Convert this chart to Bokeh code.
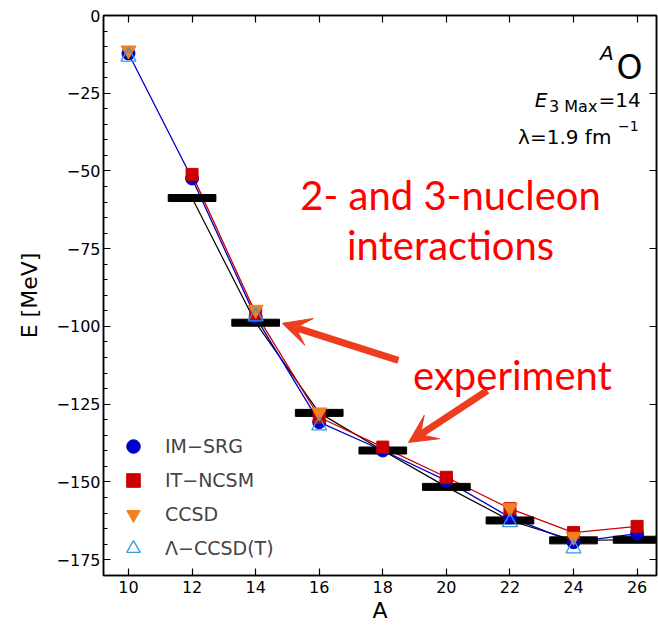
import numpy as np
from bokeh.plotting import figure
from bokeh.models import (Range1d, LinearAxis, SingleIntervalTicker, CustomJSTickFormatter,
                          Legend, LegendItem, Arrow, VeeHead, Label)
from bokeh.embed import file_html
from bokeh.resources import INLINE

# ---- data ----
mass_number = [10, 12, 14, 16, 18, 20, 22, 24, 26]
im_srg = [-12.2, -52.4, -97.0, -130.8, -139.9, -149.6, -161.4, -169.4, -166.6]
it_ncsm = [None, -51.1, -95.8, -129.2, -138.8, -148.5, -158.6, -166.3, -164.3]
ccsd = [-11.2, None, -94.6, -127.6, None, None, -158.3, -167.6, None]
lambda_ccsdt = [-13.3, None, -96.8, -131.9, None, None, -163.0, -171.4, None]
experiment = [None, -58.7, -98.8, -127.8, -139.9, -151.6, -162.4, -168.8, -168.6]

x_ticks = [10, 12, 14, 16, 18, 20, 22, 24, 26]
y_ticks = [0, -25, -50, -75, -100, -125, -150, -175]

def arr(v):
    return np.array([np.nan if a is None else a for a in v], dtype=float)

A = np.array(mass_number, dtype=float)

FONT = "DejaVu Sans"

p = figure(width=658, height=625, x_range=Range1d(9.214, 26.61), y_range=Range1d(-180.1, 0),
           output_backend="svg", toolbar_location=None,
           min_border_left=103, min_border_right=2, min_border_top=15, min_border_bottom=50)
p.xgrid.visible = False
p.ygrid.visible = False
p.outline_line_color = "black"
p.outline_line_width = 1.5
p.background_fill_color = "white"
p.border_fill_color = "white"

minus_fmt = CustomJSTickFormatter(code="return tick < 0 ? '\\u2212' + Math.abs(tick) : String(tick);")
blank_fmt = CustomJSTickFormatter(code="return '';")

def style_axis(ax, labels=True):
    ax.axis_line_width = 1.5
    ax.major_tick_in = 7
    ax.major_tick_out = 0
    ax.minor_tick_in = 4
    ax.minor_tick_out = 0
    ax.major_tick_line_width = 1.2
    ax.minor_tick_line_width = 1.0
    if labels:
        ax.major_label_text_font = FONT
        ax.major_label_text_font_size = "16px"
        ax.major_label_text_color = "black"
        ax.axis_label_text_font = FONT
        ax.axis_label_text_font_size = "22px"
        ax.axis_label_text_font_style = "normal"
        ax.axis_label_text_color = "black"
    else:
        ax.formatter = blank_fmt
        ax.major_label_text_font_size = "1px"
        ax.major_label_standoff = 0

xax = p.xaxis[0]
xax.ticker = SingleIntervalTicker(interval=2, num_minor_ticks=0)
xax.axis_label = "A"
style_axis(xax)
xax.major_label_standoff = 5
xax.axis_label_standoff = 2

yax = p.yaxis[0]
yax.ticker = SingleIntervalTicker(interval=25, num_minor_ticks=5)
yax.formatter = minus_fmt
yax.axis_label = "E [MeV]"
style_axis(yax)
yax.major_label_standoff = 3
yax.axis_label_standoff = 12

top = LinearAxis(ticker=SingleIntervalTicker(interval=2, num_minor_ticks=0))
style_axis(top, labels=False)
p.add_layout(top, "above")
right = LinearAxis(ticker=SingleIntervalTicker(interval=25, num_minor_ticks=0))
style_axis(right, labels=False)
p.add_layout(right, "right")

# lines
p.line(A, arr(experiment), line_color="black", line_width=1.2)
p.line(A, arr(im_srg), line_color="#0000cc", line_width=1.3)
p.line(A, arr(it_ncsm), line_color="#cc0000", line_width=1.3)
# experiment bars
p.rect(x=A, y=arr(experiment), width=1.5, height=7, height_units="screen",
       fill_color="black", line_color="black")

r_im = p.scatter(A, arr(im_srg), marker="circle", size=13, fill_color="#0000cc", line_color="#0000cc")
r_it = p.scatter(A, arr(it_ncsm), marker="square", size=12, fill_color="#cc0000", line_color="#cc0000")
r_cc = p.scatter(A, arr(ccsd), marker="inverted_triangle", size=15, fill_color="#f08020", line_color="#f08020")
r_lc = p.scatter(A, arr(lambda_ccsdt), marker="triangle", size=15, fill_color=None,
                 line_color="#3399dd", line_width=1.3)

legend = Legend(items=[LegendItem(label="IM\u2212SRG", renderers=[r_im]),
                       LegendItem(label="IT\u2212NCSM", renderers=[r_it]),
                       LegendItem(label="CCSD", renderers=[r_cc]),
                       LegendItem(label="\u039b\u2212CCSD(T)", renderers=[r_lc])],
                location=(13, 10), background_fill_alpha=0, border_line_alpha=0,
                label_text_font=FONT, label_text_font_size="19px",
                glyph_width=34, glyph_height=34, label_height=34, spacing=0,
                label_standoff=15, padding=0, margin=0)
p.add_layout(legend)

# arrows
ARROW_COLOR = "#f03c1e"
for (xs, ys, xe, ye) in [(18.49, -110.9, 14.84, -99.0), (21.29, -120.6, 18.81, -137.3)]:
    p.add_layout(Arrow(x_start=xs, y_start=ys, x_end=xe, y_end=ye, line_color=ARROW_COLOR,
                       line_width=7,
                       end=VeeHead(size=28, fill_color=ARROW_COLOR, line_color=ARROW_COLOR)))

def lab(x, y, text, size, align="left", style="normal", font=FONT, color="black"):
    p.add_layout(Label(x=x, y=y, text=text, text_font=font, text_font_size=size,
                       text_align=align, text_baseline="alphabetic", text_font_style=style,
                       text_color=color))

lab(25.26, -12.13, "A", "20px", "right", "italic")
lab(26.17, -16.64, "O", "33px", "right")
lab(23.18, -27.26, "E", "20px", "right", "italic")
lab(24.75, -29.19, "3 Max", "16px", "right")
lab(26.11, -27.26, "=14", "20px", "right")
lab(25.19, -39.17, "\u03bb=1.9 fm", "20px", "right")
lab(26.05, -35.63, "\u22121", "14px", "right")

RED = "#ff0000"
lab(20.13, -57.84, "2- and 3-nucleon", "40px", "center", font="Lato", color=RED)
lab(20.13, -73.93, "interactions", "40px", "center", font="Lato", color=RED)
lab(22.08, -115.77, "experiment", "40px", "center", font="Lato", color=RED)

open("out.html", "w").write(file_html(p, INLINE))
